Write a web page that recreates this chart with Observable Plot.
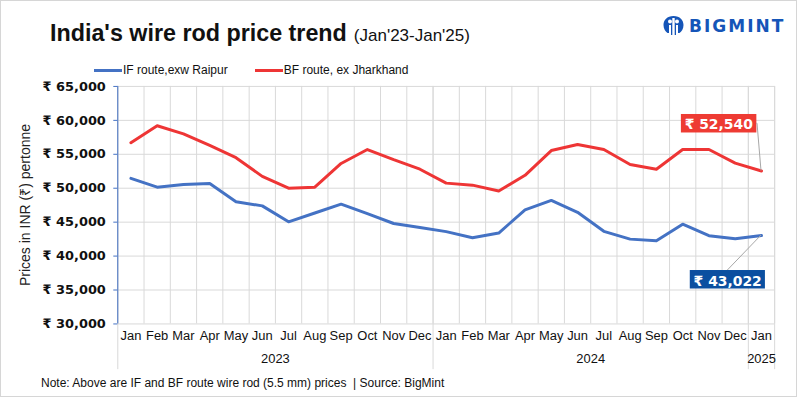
<!DOCTYPE html>
<html>
<head>
<meta charset="utf-8">
<script src="https://cdn.jsdelivr.net/npm/d3@7"></script>
<script src="https://cdn.jsdelivr.net/npm/@observablehq/plot@0.6"></script>
<style>
  html, body { margin: 0; padding: 0; background: #fff; }
  #wrap { position: relative; width: 797px; height: 397px; box-sizing: border-box; border: 1.5px solid #d6d6d6; overflow: hidden; font-family: "Liberation Sans", Arial, sans-serif; color: #111; }
  #title { position: absolute; left: 49px; top: 19px; white-space: nowrap; }
  #title .main { font-size: 23.3px; font-weight: bold; letter-spacing: 0px; }
  #title .sub { font-size: 17px; margin-left: 7px; }
  #logo { position: absolute; left: 661px; top: 14px; display: flex; align-items: center; }
  #logo .txt { font-family: "DejaVu Sans", sans-serif; font-weight: bold; font-size: 17px; letter-spacing: 2px; color: #1555b8; margin-left: 4px; }
  #legend { position: absolute; top: 62px; left: 93px; font-size: 12px; display: flex; align-items: center; white-space: nowrap; }
  #legend .sw { display: inline-block; width: 28px; height: 3px; margin-right: 1px; vertical-align: middle; }
  #legend .item { display: flex; align-items: center; margin-right: 27px; }
  #ytitle { position: absolute; left: 23px; top: 204px; transform: translate(-50%, -50%) rotate(-90deg); font-size: 14px; white-space: nowrap; color: #222; }
  #chart { position: absolute; left: 0; top: 75px; }
  #footer { position: absolute; left: 40px; top: 375px; font-size: 12px; white-space: nowrap; color: #111; }
</style>
</head>
<body>
<div id="wrap">
  <div id="title"><span class="main">India's wire rod price trend</span><span class="sub">(Jan'23-Jan'25)</span></div>
  <div id="logo">
    <svg width="23" height="21" viewBox="0 0 23 21">
      <path d="M11.5 1 C5 1 1.5 5 1.5 10 C1.5 14 3.5 16.5 5.5 18 L7 18 L7 10 L9 10 L9 20 L14 20 L14 10 L16 10 L16 18 L17.5 18 C19.5 16.5 21.5 14 21.5 10 C21.5 5 18 1 11.5 1 Z" fill="#1555b8"/>
      <circle cx="8" cy="6.5" r="2" fill="#fff"/>
      <circle cx="15" cy="6.5" r="2" fill="#fff"/>
      <rect x="10.3" y="3" width="2.4" height="17" fill="#fff"/>
    </svg>
    <span class="txt">BIGMINT</span>
  </div>
  <div id="legend">
    <span class="item"><span class="sw" style="background:#4472c4"></span>IF route,exw Raipur</span>
    <span class="item"><span class="sw" style="background:#ee3535"></span>BF route, ex Jharkhand</span>
  </div>
  <div id="ytitle">Prices in INR (₹) pertonne</div>
  <div id="chart"></div>
  <div id="footer">Note: Above are IF and BF route wire rod (5.5 mm) prices &nbsp;| Source: BigMint</div>
</div>
<script>
const months = ["Jan","Feb","Mar","Apr","May","Jun","Jul","Aug","Sep","Oct","Nov","Dec",
                "Jan","Feb","Mar","Apr","May","Jun","Jul","Aug","Sep","Oct","Nov","Dec","Jan"];
const years = ["2023","2024","2025"];
const yearStart = [0, 12, 24];
const yearEnd = [12, 24, 25];
const ifRoute = [51450, 50150, 50550, 50700, 48000, 47400, 45050, 46350, 47650, 46250, 44800, 44200,
                 43600, 42700, 43400, 46800, 48200, 46450, 43650, 42500, 42250, 44700, 43000, 42550, 43022];
const bfRoute = [56700, 59200, 58000, 56300, 54500, 51750, 50000, 50150, 53650, 55700, 54200, 52800,
                 50750, 50450, 49600, 51900, 55550, 56450, 55700, 53500, 52800, 55700, 55700, 53700, 52540];
const yTicks = [30000, 35000, 40000, 45000, 50000, 55000, 60000, 65000];

const N = months.length;
const data = months.map((m, i) => ({x: i + 0.5, m, IF: ifRoute[i], BF: bfRoute[i]}));
const yearData = years.map((y, k) => ({y, c: (yearStart[k] + yearEnd[k]) / 2}));
const bounds = d3.range(N + 1);
const separators = [...yearStart, N];
const fmt = d3.format(",");
const last = data[N - 1];
const bfLabel = "₹ " + fmt(last.BF);
const ifLabel = "₹ " + fmt(last.IF);
const labelFont = "'DejaVu Sans', sans-serif";

const chart = Plot.plot({
  width: 800, height: 297,
  marginTop: 10, marginBottom: 48, marginLeft: 117, marginRight: 22,
  x: {domain: [0, N], axis: null},
  y: {domain: [30000, 65000], axis: null},
  style: {fontFamily: "'Liberation Sans', Arial, sans-serif", overflow: "visible"},
  marks: [
    Plot.ruleY(yTicks, {stroke: "#d9d9d9", strokeWidth: 1}),
    Plot.ruleX(bounds, {stroke: "#d9d9d9", strokeWidth: 1}),
    Plot.ruleX(separators, {stroke: "#d9d9d9", strokeWidth: 1, insetBottom: -46}),
    Plot.ruleX([0], {stroke: "#4472c4", strokeWidth: 1}),
    Plot.axisY(yTicks, {anchor: "left", tickSize: 4, tickPadding: 8, stroke: "#4472c4",
      tickFormat: d => "₹ " + fmt(d), fontSize: 13, fontWeight: "bold",
      fontFamily: labelFont, label: null, fill: "#111"}),
    Plot.line(data, {x: "x", y: "IF", stroke: "#4472c4", strokeWidth: 3}),
    Plot.line(data, {x: "x", y: "BF", stroke: "#ee3535", strokeWidth: 3}),
    Plot.text(data, {x: "x", text: "m", frameAnchor: "bottom", dy: 16, fontSize: 13, fill: "#111"}),
    Plot.text(yearData, {x: "c", text: "y", frameAnchor: "bottom", dy: 39, fontSize: 13, fill: "#111"}),
    Plot.text([last], {x: "x", y: "BF", text: () => bfLabel, dx: -43, dy: -47, fill: "white",
      fontSize: 14, fontWeight: "bold", fontFamily: labelFont}),
    Plot.text([last], {x: "x", y: "IF", text: () => ifLabel, dx: -34, dy: 46, fill: "white",
      fontSize: 14, fontWeight: "bold", fontFamily: labelFont})
  ]
});
document.getElementById("chart").append(chart);

// data label boxes and leader lines (box sized from the rendered text)
const xs = chart.scale("x"), ys = chart.scale("y");
const svgNS = "http://www.w3.org/2000/svg";
function boxFor(label, color) {
  const t = Array.from(chart.querySelectorAll("text")).find(e => e.textContent === label);
  const b = t.getBBox();
  const m = t.getCTM();
  const x0 = m.a * b.x + m.c * b.y + m.e, y0 = m.b * b.x + m.d * b.y + m.f;
  const bx = {x: x0 + 0.5, y: y0 - 1.5, w: b.width + 7, h: b.height + 2.5};
  const r = document.createElementNS(svgNS, "rect");
  r.setAttribute("x", bx.x); r.setAttribute("y", bx.y);
  r.setAttribute("width", bx.w); r.setAttribute("height", bx.h);
  r.setAttribute("fill", color);
  const g = t.closest("g");
  g.parentNode.insertBefore(r, g);
  return bx;
}
function leader(points) {
  const p = document.createElementNS(svgNS, "polyline");
  p.setAttribute("points", points.map(d => d.join(",")).join(" "));
  p.setAttribute("fill", "none");
  p.setAttribute("stroke", "#a6a6a6");
  p.setAttribute("stroke-width", "1");
  chart.appendChild(p);
}
function decorate() {
  const px = xs.apply(last.x);
  const bfBox = boxFor(bfLabel, "#ee3b33");
  const ifBox = boxFor(ifLabel, "#0b4fa0");
  leader([[bfBox.x + bfBox.w, bfBox.y + bfBox.h / 2], [px - 4, bfBox.y + bfBox.h / 2], [px, ys.apply(last.BF)]]);
  leader([[ifBox.x + ifBox.w / 2, ifBox.y], [px, ys.apply(last.IF)]]);
}
(document.fonts ? document.fonts.ready : Promise.resolve()).then(() => requestAnimationFrame(decorate));
</script>
</body>
</html>
